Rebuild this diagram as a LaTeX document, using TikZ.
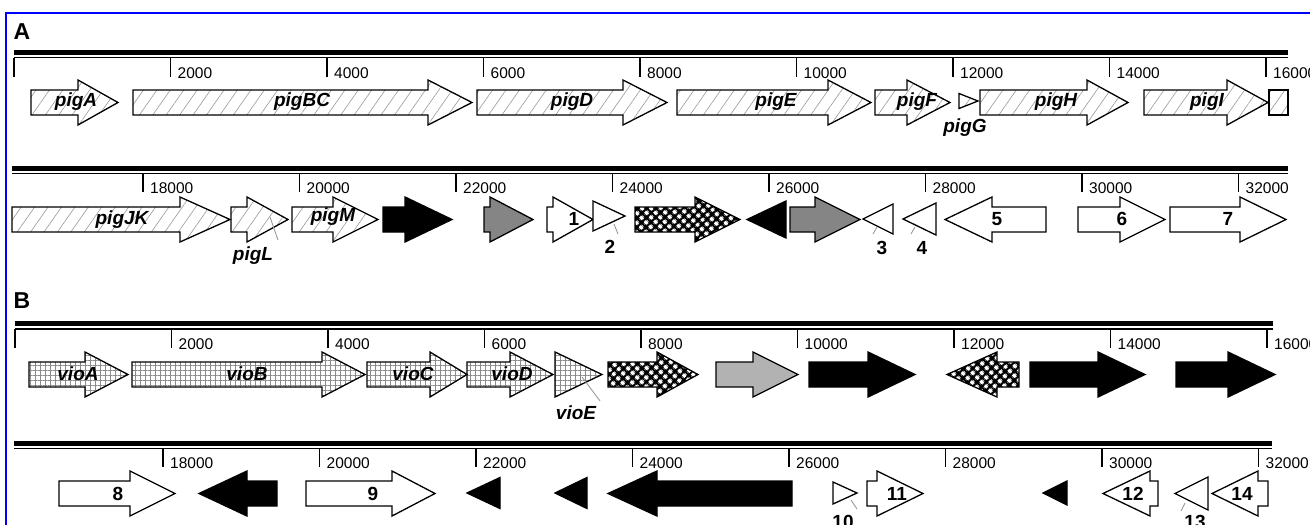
\documentclass[tikz,border=0pt]{standalone}
\usepackage{fontspec}
\setmainfont{Liberation Sans}
\usetikzlibrary{patterns.meta}
\tikzset{
  gene/.style={draw=black, line width=1.3pt, line join=miter},
  hatchfill/.style={gene, pattern={Lines[angle=55,distance=11pt,line width=0.6pt]}, pattern color=black!40},
  gridfill/.style={gene, pattern={Hatch[angle=0,distance=5pt,line width=0.4pt]}, pattern color=black!45},
  dotfill/.style={gene, preaction={fill=black}, pattern={Dots[angle=45,distance=6.5pt,radius=2.5pt]}, pattern color=white},
  blackfill/.style={gene, fill=black},
  whitefill/.style={gene, fill=white},
  grayfill/.style={gene, fill=black!48},
  lgrayfill/.style={gene, fill=black!30},
  thickaxis/.style={line width=5pt, black},
  thinaxis/.style={line width=1.2pt, black},
  tickmark/.style={line width=1.3pt, black},
  gname/.style={font=\fontsize{19}{19}\selectfont\bfseries\itshape, inner sep=0},
  gnum/.style={font=\fontsize{19}{19}\selectfont\bfseries, inner sep=0},
  tlab/.style={font=\fontsize{15.5}{15.5}\selectfont, anchor=base west, inner sep=0},
  panel/.style={font=\fontsize{23}{23}\selectfont\bfseries, inner sep=0},
  leader/.style={draw=black!40, line width=0.9pt},
}
% style, x start, x head base, x tip, y centre
\newcommand\Garrow[5]{\path[#1] (#2,{#5-12.5}) -- (#3,{#5-12.5}) -- (#3,{#5-22.5}) -- (#4,#5) -- (#3,{#5+22.5}) -- (#3,{#5+12.5}) -- (#2,{#5+12.5}) -- cycle;}
% style, x base, x tip, y centre, half height
\newcommand\Gtri[5]{\path[#1] (#2,{#4-#5}) -- (#3,#4) -- (#2,{#4+#5}) -- cycle;}
% axis: x start, x end, y thick, y thin
\newcommand\Gaxis[4]{\draw[thickaxis] (#1,#3) -- (#2,#3); \draw[thinaxis] (#1,#4) -- (#2,#4);}
\begin{document}
\begin{tikzpicture}[x=1pt,y=-1pt]
\useasboundingbox (0,0) rectangle (1310,525);
\clip (0,0) rectangle (1310,525);
\draw[blue, line width=2.2pt] (6,530) -- (6,13) -- (1320,13);

% ---------------- Panel A ----------------
\node[panel] (pA) at (22,32) {A};
% row A1
\Gaxis{14}{1288}{52}{57.5}
\draw[tickmark] (14,57.5) -- (14,77);
\foreach \k/\lab in {1/2000,2/4000,3/6000,4/8000,5/10000,6/12000,7/14000,8/16000}{
  \draw[tickmark] ({14+\k*156.5},57.5) -- ({14+\k*156.5},77);
  \node[tlab] at ({14+\k*156.5+7},78) {\lab};
}
\Garrow{hatchfill}{31}{78}{118}{102.5}
\Garrow{hatchfill}{133}{428}{472}{102.5}
\Garrow{hatchfill}{477}{623}{667}{102.5}
\Garrow{hatchfill}{677}{828}{871}{102.5}
\Garrow{hatchfill}{875}{907}{950}{102.5}
\Gtri{hatchfill}{959}{978}{101}{7.5}
\Garrow{hatchfill}{980}{1087}{1128}{102.5}
\Garrow{hatchfill}{1144}{1227}{1268}{102.5}
\path[hatchfill] (1269,90) rectangle (1288,115);
\node[gname] (pigA) at (76,102) {pigA};
\node[gname] (pigBC) at (302,102) {pigBC};
\node[gname] (pigD) at (572,102) {pigD};
\node[gname] (pigE) at (776,102) {pigE};
\node[gname] (pigF) at (917,102) {pigF};
\node[gname] (pigG) at (965,128) {pigG};
\node[gname] (pigH) at (1056,102) {pigH};
\node[gname] (pigI) at (1207,102) {pigI};

% row A2
\Gaxis{12}{1288}{168}{173.5}
\foreach \k/\lab in {0/18000,1/20000,2/22000,3/24000,4/26000,5/28000,6/30000,7/32000}{
  \draw[tickmark] ({143+\k*156.5},173.5) -- ({143+\k*156.5},192);
  \node[tlab] at ({143+\k*156.5+7},193) {\lab};
}
\Garrow{hatchfill}{12}{180}{230}{219.5}
\Garrow{hatchfill}{231}{247}{288}{219.5}
\Garrow{hatchfill}{292}{333}{378}{219.5}
\Garrow{blackfill}{383}{405}{452}{219.5}
\Garrow{grayfill}{484}{490}{533}{219.5}
\Garrow{whitefill}{547}{553}{593}{219.5}
\Gtri{whitefill}{593}{625}{216}{15}
\Garrow{dotfill}{635}{695}{740}{219.5}
\Gtri{blackfill}{786}{747}{219.5}{18.5}
\Garrow{grayfill}{790}{815}{860}{219.5}
\Gtri{whitefill}{893}{863}{219}{15}
\Gtri{whitefill}{936}{903}{219}{16}
\Garrow{whitefill}{1046}{992}{945}{219.5}
\Garrow{whitefill}{1078}{1120}{1165}{219.5}
\Garrow{whitefill}{1170}{1240}{1286}{219.5}
\draw[leader] (270,217) -- (278,240);
\draw[leader] (614,224) -- (618,234);
\draw[leader] (877,227) -- (873,234);
\draw[leader] (915,227) -- (911,234);
\node[gname] (pigJK) at (122,220) {pigJK};
\node[gname] (pigL) at (253,256) {pigL};
\node[gname] (pigM) at (333,217) {pigM};
\node[gnum] (g1) at (574,219) {1};
\node[gnum] (g2) at (610,247) {2};
\node[gnum] (g3) at (882,248) {3};
\node[gnum] (g4) at (922,248) {4};
\node[gnum] (g5) at (997,219) {5};
\node[gnum] (g6) at (1122,219) {6};
\node[gnum] (g7) at (1228,219) {7};

% ---------------- Panel B ----------------
\node[panel] (pB) at (22,301) {B};
% row B1
\Gaxis{15}{1273}{323}{329}
\draw[tickmark] (15,329) -- (15,348);
\foreach \k/\lab in {1/2000,2/4000,3/6000,4/8000,5/10000,6/12000,7/14000,8/16000}{
  \draw[tickmark] ({15+\k*156.5},329) -- ({15+\k*156.5},348);
  \node[tlab] at ({15+\k*156.5+7},349) {\lab};
}
\Garrow{gridfill}{29}{85}{128}{374.5}
\Garrow{gridfill}{132}{322}{365}{374.5}
\Garrow{gridfill}{367}{430}{467}{374.5}
\Garrow{gridfill}{467}{510}{553}{374.5}
\Gtri{gridfill}{555}{602}{374.5}{22.5}
\Garrow{dotfill}{608}{657}{698}{374.5}
\Garrow{lgrayfill}{716}{753}{798}{374.5}
\Garrow{blackfill}{809}{868}{915}{374.5}
\Garrow{dotfill}{1019}{997}{947}{374.5}
\Garrow{blackfill}{1030}{1098}{1145}{374.5}
\Garrow{blackfill}{1176}{1228}{1275}{374.5}
\draw[leader] (582,377) -- (600,401);
\node[gname] (vioA) at (78,374) {vioA};
\node[gname] (vioB) at (247,374) {vioB};
\node[gname] (vioC) at (413,374) {vioC};
\node[gname] (vioD) at (512,374) {vioD};
\node[gname] (vioE) at (576,413) {vioE};

% row B2
\Gaxis{14}{1272}{443}{448.5}
\foreach \k/\lab in {0/18000,1/20000,2/22000,3/24000,4/26000,5/28000,6/30000,7/32000}{
  \draw[tickmark] ({163+\k*156.5},448.5) -- ({163+\k*156.5},467);
  \node[tlab] at ({163+\k*156.5+7},468) {\lab};
}
\Garrow{whitefill}{59}{130}{175}{493.5}
\Garrow{blackfill}{277}{247}{199}{493.5}
\Garrow{whitefill}{306}{392}{435}{493.5}
\Gtri{blackfill}{500}{467}{493}{15.5}
\Gtri{blackfill}{587}{555}{493}{15.5}
\Garrow{blackfill}{792}{657}{608}{493.5}
\Gtri{whitefill}{833}{857}{493}{11}
\Garrow{whitefill}{867}{877}{923}{493.5}
\Gtri{blackfill}{1067}{1043}{493}{12}
\Garrow{whitefill}{1158}{1150}{1103}{493.5}
\Gtri{whitefill}{1208}{1175}{493.5}{16.5}
\Garrow{whitefill}{1268}{1258}{1212}{493.5}
\draw[leader] (851,500) -- (857,509);
\draw[leader] (1185,503) -- (1181,511);
\node[gnum] (g8) at (118,494) {8};
\node[gnum] (g9) at (373,494) {9};
\node[gnum] (g10) at (843,522) {10};
\node[gnum] (g11) at (897,494) {11};
\node[gnum] (g12) at (1133,494) {12};
\node[gnum] (g13) at (1195,522) {13};
\node[gnum] (g14) at (1242,494) {14};
\end{tikzpicture}
\end{document}
